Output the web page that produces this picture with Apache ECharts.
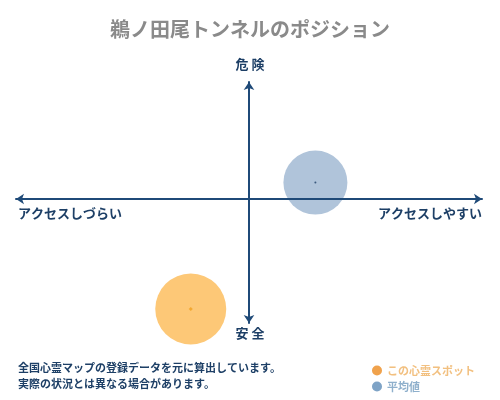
<!DOCTYPE html>
<html style="height:100%;">
<head>
    <meta charset="utf-8">
    <script src="https://cdn.jsdelivr.net/npm/echarts@6/dist/echarts.min.js"></script>
</head>
<body style="height:100%;margin:0;">
    <div id="main" style="width:500px;height:400px;"></div>
</body>
</html>
<script>
    // 軸ラベル
    var axisLabels = ['危 険', '安 全', 'アクセスしづらい', 'アクセスしやすい'];
    // 凡例
    var seriesNames = ['この心霊スポット', '平均値'];
    // 位置 [アクセス, 危険度]
    var spotPos = [-25, -94];
    var avgPos = [28.5, 14];
    // バブルの大きさ
    var bubbleSizes = [71, 64];
    var noteLines = ['全国心霊マップの登録データを元に算出しています。', '実際の状況とは異なる場合があります。'];

    var font = '"Noto Sans CJK JP", serif';
    var navy = '#1f4a78';

    var myChart = echarts.init(document.getElementById('main'));
    var option = {
        backgroundColor: '#fff',
        title: {
            text: '鵜ノ田尾トンネルのポジション',
            left: 'center',
            top: 14,
            textStyle: {color: '#8a8a8a', fontSize: 20, fontWeight: 'bold', fontFamily: font}
        },
        legend: {
            orient: 'vertical',
            right: 20,
            top: 360,
            itemWidth: 10,
            itemHeight: 10,
            itemGap: 5,
            icon: 'circle',
            data: [
                {name: seriesNames[0], itemStyle: {color: '#f0a24c'}, textStyle: {color: '#f2c080'}},
                {name: seriesNames[1], itemStyle: {color: '#7ea3c6'}, textStyle: {color: '#8fb0cc'}}
            ],
            textStyle: {fontSize: 11, fontWeight: 'bold', fontFamily: font}
        },
        grid: {left: 16, right: 18, top: 82, bottom: 77},
        xAxis: {
            type: 'value', min: -100, max: 100, z: 5,
            axisLine: {lineStyle: {color: navy, width: 2}, symbol: ['arrow', 'arrow'], symbolSize: [8, 8]},
            axisTick: {show: false}, axisLabel: {show: false}, splitLine: {show: false}
        },
        yAxis: {
            type: 'value', min: -106, max: 100, z: 5,
            axisLine: {lineStyle: {color: navy, width: 2}, symbol: ['arrow', 'arrow'], symbolSize: [8, 8]},
            axisTick: {show: false}, axisLabel: {show: false}, splitLine: {show: false}
        },
        graphic: [
            {type: 'text', left: 'center', top: 58, style: {text: axisLabels[0], fill: '#1d3f66', font: 'bold 13px ' + font}},
            {type: 'text', left: 'center', top: 327, style: {text: axisLabels[1], fill: '#1d3f66', font: 'bold 13px ' + font}},
            {type: 'text', left: 18, top: 207, style: {text: axisLabels[2], fill: '#1d3f66', font: 'bold 13px ' + font}},
            {type: 'text', right: 18, top: 207, style: {text: axisLabels[3], fill: '#1d3f66', font: 'bold 13px ' + font}},
            {type: 'text', left: 18, top: 360, style: {text: noteLines.join('\n'), fill: '#1d3f66', font: 'bold 11px ' + font, lineHeight: 16}}
        ],
        series: [
            {
                name: seriesNames[0],
                type: 'scatter',
                symbolSize: bubbleSizes[0],
                itemStyle: {color: '#fdc877', opacity: 1},
                data: [spotPos],
                z: 2
            },
            {
                name: seriesNames[1],
                type: 'scatter',
                symbolSize: bubbleSizes[1],
                itemStyle: {color: '#b0c4da', opacity: 1},
                data: [avgPos],
                z: 2
            },
            {
                type: 'scatter',
                symbol: 'diamond',
                symbolSize: 4,
                itemStyle: {color: '#f0a020'},
                data: [spotPos],
                z: 3
            },
            {
                type: 'scatter',
                symbolSize: 2,
                itemStyle: {color: '#1d3f66'},
                data: [avgPos],
                z: 3
            }
        ]
    };

    myChart.setOption(option);
</script>
